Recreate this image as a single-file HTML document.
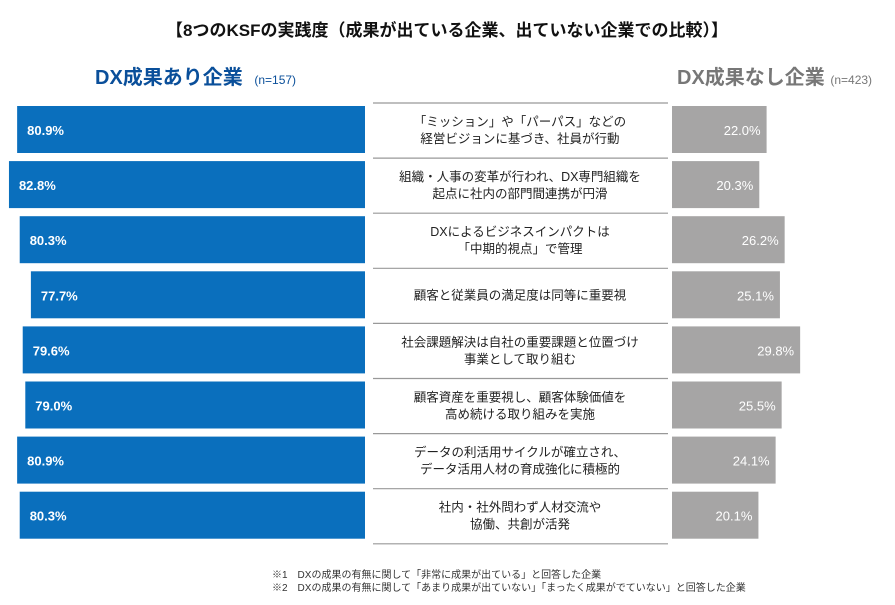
<!DOCTYPE html>
<html><head><meta charset="utf-8"><style>
body{margin:0;width:895px;height:600px;background:#fff;overflow:hidden;font-family:"Liberation Sans","Noto Sans CJK JP",sans-serif}
svg text{font-family:"Liberation Sans","Noto Sans CJK JP",sans-serif}
</style></head><body>
<svg id="c" width="895" height="600">
<text x="447" y="36" text-anchor="middle" font-size="17" font-weight="bold" fill="#111">【8つのKSFの実践度（成果が出ている企業、出ていない企業での比較）】</text>
<text x="95" y="84" font-size="20" font-weight="bold" fill="#0a4f9a">DX成果あり企業 <tspan font-size="12" font-weight="normal" dx="6">(n=157)</tspan></text>
<text x="677" y="84" font-size="20" font-weight="bold" fill="#777">DX成果なし企業 <tspan font-size="12" font-weight="normal">(n=423)</tspan></text>
<g id="rows"></g>
<text x="272" y="578" font-size="10" fill="#333">※1　DXの成果の有無に関して「非常に成果が出ている」と回答した企業</text>
<text x="272" y="591" font-size="10" fill="#333">※2　DXの成果の有無に関して「あまり成果が出ていない」「まったく成果がでていない」と回答した企業</text>
</svg>
<script>
const categories=[["「ミッション」や「パーパス」などの","経営ビジョンに基づき、社員が行動"],["組織・人事の変革が行われ、DX専門組織を","起点に社内の部門間連携が円滑"],["DXによるビジネスインパクトは","「中期的視点」で管理"],["顧客と従業員の満足度は同等に重要視"],["社会課題解決は自社の重要課題と位置づけ","事業として取り組む"],["顧客資産を重要視し、顧客体験価値を","高め続ける取り組みを実施"],["データの利活用サイクルが確立され、","データ活用人材の育成強化に積極的"],["社内・社外問わず人材交流や","協働、共創が活発"]];
const withDX=[80.9,82.8,80.3,77.7,79.6,79.0,80.9,80.3];
const withoutDX=[22.0,20.3,26.2,25.1,29.8,25.5,24.1,20.1];
const NS="http://www.w3.org/2000/svg",g=document.getElementById('rows');
const sx=v=>v*4.3, rowY=i=>106+i*55.1, H=47;
function mk(t,a){const e=document.createElementNS(NS,t);for(const k in a)e.setAttribute(k,a[k]);g.appendChild(e);return e;}
categories.forEach((c,i)=>{
 const y=rowY(i);
 const ln=mk('line',{x1:373,x2:668,y1:y-3,y2:y-3,stroke:'#999','stroke-width':1.2});
 
 
 const w=sx(withDX[i]);
 const b=mk('rect',{x:365-w,y:y,width:w,height:H,fill:'#0a6fbd'});
 
 
 const t=mk('text',{x:365-w+10,y:y+29,'font-size':13,'font-weight':'bold',fill:'#fff'});t.textContent=withDX[i].toFixed(1)+'%';
 
 
 const w2=sx(withoutDX[i]);
 const b2=mk('rect',{x:672,y:y,width:w2,height:H,fill:'#a6a5a5'});
 
 
 const t2=mk('text',{x:672+w2-6,y:y+29,'font-size':13,fill:'#fff','text-anchor':'end'});t2.textContent=withoutDX[i].toFixed(1)+'%';
 
 
 const tl=mk('text',{x:520,y:0,'font-size':12.5,fill:'#222','text-anchor':'middle'});
 
 
 const y0=c.length===1?y+28:y+20;
 c.forEach((s,j)=>{const ts=document.createElementNS(NS,'tspan');ts.setAttribute('x',520);ts.setAttribute('y',y0+j*17);ts.textContent=s;tl.appendChild(ts);});
});
const last=mk('line',{x1:373,x2:668,y1:rowY(8)-3,y2:rowY(8)-3,stroke:'#999','stroke-width':1.2});


</script>
</body></html>
